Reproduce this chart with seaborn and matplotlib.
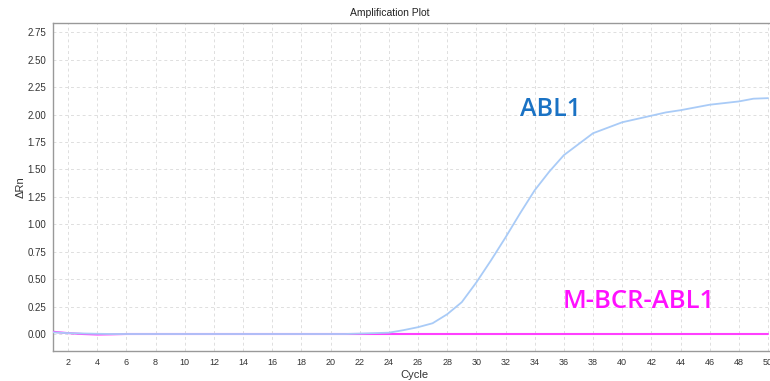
import numpy as np
import pandas as pd
import matplotlib
matplotlib.use("Agg")
import matplotlib.pyplot as plt
import seaborn as sns

# Cycle numbers and delta-Rn readings for each target
cycles = list(range(1, 51))
abl1 = [0.015, 0.008, 0.005, 0.002, 0.0, 0.0, 0.0, 0.0, 0.0, 0.0,
        0.0, 0.0, 0.0, 0.0, 0.0, 0.0, 0.0, 0.0, 0.0, 0.0,
        0.0, 0.004, 0.008, 0.012, 0.035, 0.062, 0.098, 0.18, 0.29, 0.47,
        0.67, 0.88, 1.10, 1.31, 1.48, 1.63, 1.73, 1.83, 1.88, 1.93,
        1.96, 1.99, 2.02, 2.04, 2.065, 2.09, 2.105, 2.12, 2.145, 2.15]
mbcr_abl1 = [0.02, 0.008, 0.0, -0.005, -0.003, 0.0, 0.0, 0.0, 0.0, 0.0,
             0.0, 0.0, 0.0, 0.0, 0.0, 0.0, 0.0, 0.0, 0.0, 0.0,
             0.0, 0.0, 0.0, 0.0, 0.0, 0.0, 0.0, 0.0, 0.0, 0.0,
             0.0, 0.0, 0.0, 0.0, 0.0, 0.0, 0.0, 0.0, 0.0, 0.0,
             0.0, 0.0, 0.0, 0.0, 0.0, 0.0, 0.0, 0.0, 0.0, 0.0]

x_ticks = list(range(2, 51, 2))
y_ticks = [0.00, 0.25, 0.50, 0.75, 1.00, 1.25, 1.50, 1.75, 2.00, 2.25, 2.50, 2.75]

sns.set_style("white")
plt.rcParams["font.family"] = ["Liberation Sans", "DejaVu Sans"]

fig = plt.figure(figsize=(7.7, 3.81), dpi=100)
W, H = 770, 381
ax = fig.add_axes([53 / W, (H - 351) / H, (775 - 53) / W, (351 - 23) / H])

df_m = pd.DataFrame({"Cycle": cycles, "dRn": mbcr_abl1})
df_a = pd.DataFrame({"Cycle": cycles, "dRn": abl1})
sns.lineplot(data=df_m, x="Cycle", y="dRn", ax=ax, color="#ff40ff", lw=1.5, zorder=3)
sns.lineplot(data=df_a, x="Cycle", y="dRn", ax=ax, color="#a9cbf7", lw=1.3, zorder=4)

px_per_cycle = 700 / 48
ax.set_xlim(2 - 15 / px_per_cycle, 2 + (775 - 68) / px_per_cycle)
px_per_unit = 109.7
ax.set_ylim((334 - 351) / px_per_unit, (334 - 23) / px_per_unit)

ax.set_xticks(x_ticks)
ax.set_xticklabels([str(t) for t in x_ticks], fontsize=6.5, color="#333333")
ax.set_yticks(y_ticks)
ax.set_yticklabels([f"{t:.2f}" for t in y_ticks], fontsize=7, color="#333333")
ax.tick_params(axis="both", length=0, pad=5)

ax.grid(True, color="#dedede", linestyle=(0, (3, 3)), linewidth=0.7)
ax.set_axisbelow(True)
for s in ax.spines.values():
    s.set_color("#999999")
    s.set_linewidth(1.0)

ax.set_xlabel("Cycle", fontsize=8, color="#333333", labelpad=2)
ax.set_ylabel("ΔRn", fontsize=8, color="#333333", labelpad=1)
fig.text(390 / W, 1 - 13 / H, "Amplification Plot", ha="center", va="center",
         fontsize=7.5, color="#222222")

label_font = ["Open Sans", "DejaVu Sans"]
ax.text(33.0, 2.05, "ABL1", color="#1a72c4", fontsize=18,
        family=label_font, fontweight="semibold",
        ha="left", va="center")
ax.text(35.95, 0.30, "M-BCR-ABL1", color="#ff10ff", fontsize=18.5,
        family=label_font, fontweight="semibold",
        ha="left", va="center")

fig.savefig("out.png", dpi=100)
